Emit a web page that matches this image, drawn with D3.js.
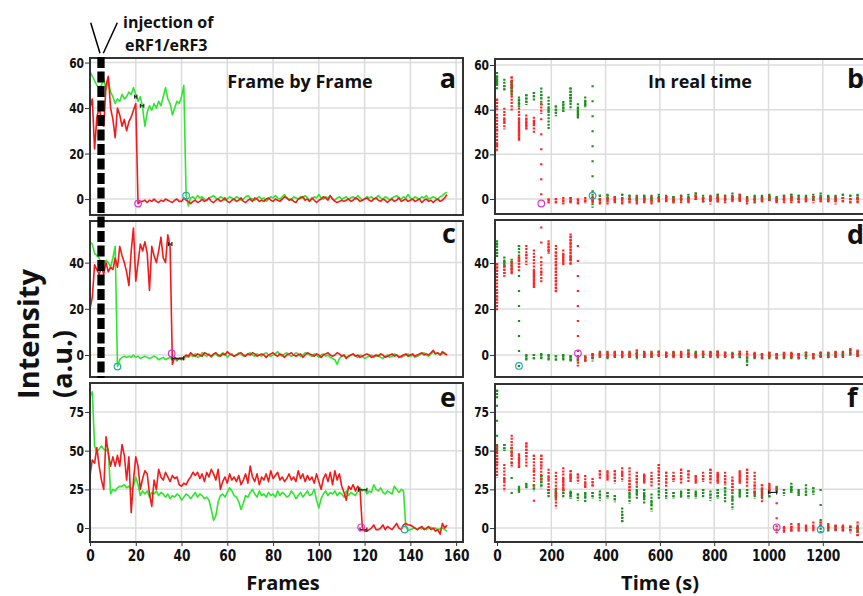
<!doctype html>
<html>
<head>
<style>
  body { margin: 0; background: #fff; }
  text { font-family: "Open Sans", sans-serif; font-weight: bold; fill: #111; }
  .tick text { font-family: "Liberation Sans Narrow", "DejaVu Sans Condensed", "DejaVu Sans", sans-serif; font-stretch: condensed; font-weight: bold; fill: #111; }
  .grid line { stroke: #dcdcdc; stroke-width: 1.5; }
</style>
<script src="https://d3js.org/d3.v7.min.js"></script>
</head>
<body>
<svg width="863" height="596"></svg>
<script>

// ---- data ----
var frameTicks = [0, 20, 40, 60, 80, 100, 120, 140, 160];
var timeTicks = [0, 200, 400, 600, 800, 1000, 1200];
var ticksAB = [0, 20, 40, 60];
var ticksCD = [0, 20, 40];
var ticksEF = [0, 25, 50, 75];

// time (s) of each acquisition burst in the real-time panels
var burstTimes = [0, 27, 54, 81, 108, 136, 163, 190, 217, 244, 271, 298, 325, 352, 379, 407, 434,
  461, 488, 515, 542, 569, 596, 623, 650, 678, 705, 732, 759, 786, 813, 840, 867, 894, 921, 949,
  976, 1003, 1030, 1057, 1084, 1111, 1138, 1165, 1192, 1220, 1247, 1274, 1301, 1328, 1355];
var framesPerBurst = 3.1;

// trace 1 (a/b)
var redA = [40, 44, 22, 36, 40, 35, 32, 50, 54, 40, 35, 27, 40, 37, 32, 35, 30, 34, 36, 39, 42,
  -2,
  -1, -1, -0.5, -1.5, -0.5, -1, 0, -1, -1.5, -0.5,
  -1, 0, -0.5, -1, -1.5, -0.5, 0, -1, -1, 0.5,
  -0.5, -1, -2, -1, -0.5, -1.5, -1, 0, -1, -0.5,
  0.5, -1, -1.5, -0.5, 0, -1, -0.5, 0.5, -1, -1.5,
  -0.5, 0, -1, -0.5, 0.5, -1, -1.5, -0.5, 0, -1,
  0.5, 0, -1, -0.5, -1, 0, 0.5, -0.5, -1, 0,
  -0.5, -1, 0, 1, 0.5, -0.5, 0, -1, -1.5, 0,
  0.5, 1, -0.5, 0, -1, 0.5, -0.5, -1.5, -0.5, 0,
  1, 0.5, -0.5, 1.5, 0, -1, -1.5, -1, -0.5, -1,
  -0.5, 0, -1, -0.5, 0.5, 0, -1, -0.5, 0, 0.5,
  -0.5, -1, 0, 0.5, -0.5, -1, 0, -0.5, -1.5, -0.5,
  0, -1, -0.5, 0.5, -1, -0.5, 0, -1, -0.5, 0,
  -1, -0.5, 0, -1.5, -0.5, 0, -1, -0.5, -1.5, -0.5,
  0, -1, -0.5, 0.5, 2];
var greenA = [56, 54, 52, 50, 49, 50, 53, 48, 52, 47, 45, 42, 44, 43, 46, 44, 45, 47, 46, 49,
  46, 43, 45, 40, 32, 38, 41, 39, 42, 40, 43, 41, 45, 49, 44, 42, 37, 40, 43, 42, 45, 50,
  1.5, -3,
  0.5, 1, 0, 1.5, 0.5, 1, 0, -0.5, 0.5, 1,
  1.5, 0.5, 0, 1, 0.5, -0.5, 0, 1, 0.5, 0,
  1, 0.5, -0.5, 0, 1, 1.5, 0.5, 0, -0.5, 0.5,
  1, 0, 0.5, -1, 0, 1, 0.5, 1.5, 0.5, 0,
  1, 2, 0.5, 0, -0.5, 1, 0.5, 0, 1, 0.5,
  1.5, 0.5, -0.5, 0, 1, 0.5, 2, 0.5, 0, 1,
  0.5, 1.5, 0, -0.5, 0.5, 1, 0, 0.5, 1, 0,
  0.5, 1, 0, 1.5, 0.5, -0.5, 0, 1, 0.5, 1,
  0, 0.5, 1.5, 0.5, 0, 1, 0.5, -0.5, 0.5, 1,
  1.5, 0.5, 0, 1, 0.5, 2, 0.5, 0, 1, 0.5,
  0, 1, 0.5, 1.5, 0, 0.5, 1, 0.5, 0, 1,
  1.5, 2.5, 3];

// trace 2 (c/d)
var redC = [20, 25, 39, 37, 35, 38, 35, 40, 36, 38, 37, 42, 38, 47, 43, 40, 36, 30, 45, 55,
  32, 40, 48, 45, 49, 44, 28, 47, 43, 40, 45, 51, 42, 40, 52, 47, -4,
  -1, -2, -1.5, -2, -1, 0, -0.5, 1, 0, -0.5,
  0.5, 0, -0.5, 1, 0.5, 0, -0.5, 0.5, 1, 0,
  -0.5, 0.5, 0, 1.5, 0.5, 0, -0.5, 0, 0.5, 1,
  0, -0.5, 0.5, 0, 1, 0.5, -0.5, 0, 0.5, 0,
  -1, 0, 0.5, 1, 0, -0.5, 0.5, 0, -1, 0,
  0.5, 1, 0, -0.5, 0, 0.5, -1, 0, 1, 0.5,
  0, -0.5, 0.5, 0, -1, 0, 0.5, 1, 0, -0.5,
  0, 1, 0.5, -0.5, 0, -1.5, -0.5, 0, 0.5, -0.5,
  0, -1, -0.5, 0, 0.5, 0, -1, -0.5, 0, -0.5,
  0.5, 0, -1, -0.5, 0, 0.5, -0.5, 0, -1, -0.5,
  0, 0.5, -0.5, 0, 0.5, -0.5, 0, 0.5, 1, 0,
  0.5, 0, 1, 2, 0.5, 1, 0, 1.5, 0.5, 0];
var greenC = [49, 48, 44, 43, 42, 39, 40, 41, 40, 38, 42, 47,
  -5, -2,
  -1, -0.5, -1, -0.5, -1, 0, -1, -0.5, -1.5, -1,
  -0.5, -1, -1.5, -1, -0.5, -1, -2, -1.5, -1, -2,
  -1.5, -1, -2, -1.5, -2.5, -1.5, -1, -2, -0.5, -1,
  0, -0.5, 0.5, -1, -0.5, 1, 0, -0.5, 0.5, -1,
  0, 0.5, -0.5, 0, 1, 0.5, -1, 0, 0.5, -0.5,
  0, 1, 0.5, -0.5, 0, 0.5, 1, 0, -0.5, 0.5,
  0, -0.5, 0.5, 1, 0, -0.5, 0, 0.5, 1.5, 0,
  -0.5, 0.5, 1, 0, -0.5, 0, 1, 0.5, -0.5, 0,
  1, 0.5, 0, -0.5, 0.5, 0, -1, 0, 0.5, -0.5,
  0, -1, -1.5, -2, -4, -1.5, -0.5, 0, -1, -0.5,
  0, 0.5, -0.5, -1, 0, -0.5, -1.5, -1, -0.5, 0,
  -1, -0.5, 0, -1, -1.5, -0.5, 0, -1, -0.5, 0.5,
  0, -0.5, -1, -0.5, 0, 0.5, -0.5, 0, -1, -0.5,
  0, 0.5, 1, 0, -0.5, 0.5, 1.5, 0.5, 1, 0,
  0.5, 1, 0];

// trace 3 (e/f)
var redE = [34, 44, 42, 52, 40, 31, 25, 59, 48, 40, 46, 40, 47, 40, 54, 47, 31, 46, 10, 31,
  46, 40, 25, 32, 37, 35, 22, 14, 31, 25, 38, 33, 31, 36, 33, 30, 34, 32, 33, 28,
  27, 29, 28, 31, 33, 36, 34, 36, 32, 35, 30, 36, 33, 38, 35, 31, 38, 25, 30, 33,
  29, 35, 31, 33, 30, 34, 28, 31, 35, 29, 40, 33, 30, 35, 28, 33, 31, 35, 30, 37,
  32, 34, 36, 31, 33, 30, 32, 35, 31, 33, 30, 37, 32, 35, 30, 34, 31, 33, 29, 35,
  30, 25, 32, 35, 30, 36, 28, 37, 31, 35, 27, 23, 18, 27, 25, 28, 24, 27, 25, 0.5,
  -2, -2, -1, 0, 2, -1, -1, 0, 2, -1,
  1, 0, -1, 1, 3, 0, -1, 2, 3, 2,
  2, 1, 0, -1, 0, 1, -1, 0, 1, -1,
  0, -2, -1, -4, 3, 0, 2];
var greenE = [85, 88, 53, 49, 51, 53, 51, 50, 51, 22, 25, 24, 26, 27, 27, 28, 26, 27, 25, 27,
  33, 28, 21, 24, 22, 24, 20, 23, 22, 24, 21, 23, 22, 20, 22, 19, 21, 20, 22, 21,
  18, 20, 22, 21, 19, 21, 23, 20, 22, 21, 19, 20, 18, 12, 5, 8, 17, 21, 22, 20,
  23, 26, 24, 21, 20, 17, 12, 16, 21, 20, 23, 25, 22, 20, 24, 21, 22, 20, 23, 21,
  22, 20, 24, 21, 23, 22, 20, 21, 24, 22, 19, 21, 23, 20, 22, 24, 21, 22, 25, 18,
  13, 19, 22, 24, 21, 23, 22, 24, 21, 23, 22, 20, 24, 21, 23, 22, 21, 24, 26, 24,
  25, 22, 24, 23, 28, 25, 24, 26, 23, 22, 24, 23, 22, 27, 25, 23, 25, 24, 1,
  -1.5, -1, -0.5, 0, -1, 0.5, -0.5, 0, -1, 0, 0.5, -0.5, 0, -1, -0.5, 0, -1, -2];

// fitted-step circles: [x, value, kind]  (m = magenta / red trace, c = cyan / green trace)
var circlesA = [[21, -2, "m"], [42, 1.5, "c"]];
var circlesB = [[163, -2, "m"], [352, 1.5, "c"]];
var circlesC = [[12, -5, "c"], [35.7, 0.7, "m"]];
var circlesD = [[81, -4.8, "c"], [298, 0.7, "m"]];
var circlesE = [[118.5, 0.5, "m"], [137.5, -1, "c"]];
var circlesF = [[1030, 0.5, "m"], [1192, -1, "c"]];

// small step marks: [x0, x1, value]
var marksA = [[19.5, 20.5, 45], [22, 23.5, 41]];
var marksC = [[34.3, 35.8, 48], [35.9, 40.9, -1.4]];
var marksE = [[117.4, 121, 24.7], [118, 121, -1]];
var marksF = [[1000, 1030, 23]];

// ---- layout ----
var svg = d3.select("svg");
var xFrame = d3.scaleLinear().domain([0, 163]).range([90, 463]);
var xTime = d3.scaleLinear().domain([-7.4, 1410.6]).range([495, 880]);

var panels = [
  {id: "a", x: xFrame, top: 58, bottom: 215, yDom: [-7, 62], ticks: ticksAB, red: redA, green: greenA, circles: circlesA, marks: marksA, real: false},
  {id: "b", x: xTime, top: 59, bottom: 214, yDom: [-6.7, 62.7], ticks: ticksAB, red: redA, green: greenA, circles: circlesB, marks: [], real: true},
  {id: "c", x: xFrame, top: 221, bottom: 377, yDom: [-9.5, 58], ticks: ticksCD, red: redC, green: greenC, circles: circlesC, marks: marksC, real: false},
  {id: "d", x: xTime, top: 220, bottom: 377, yDom: [-9.6, 58.7], ticks: ticksCD, red: redC, green: greenC, circles: circlesD, marks: [], real: true},
  {id: "e", x: xFrame, top: 383, bottom: 542, yDom: [-9, 93.7], ticks: ticksEF, red: redE, green: greenE, circles: circlesE, marks: marksE, real: false, labels: true},
  {id: "f", x: xTime, top: 384, bottom: 542, yDom: [-9, 93], ticks: ticksEF, red: redE, green: greenE, circles: circlesF, marks: marksF, real: true, labels: true}
];

// consecutive frames that fall in the same burst -> short vertical dotted runs
function burstSteps(values) {
  var steps = [];
  values.forEach(function(v, i) {
    var k = Math.floor(i / framesPerBurst);
    var next = values[i + 1];
    if (next !== undefined && Math.floor((i + 1) / framesPerBurst) === k) {
      steps.push({t: burstTimes[k], a: v, b: next});
    } else if (i === 0 || Math.floor((i - 1) / framesPerBurst) !== k) {
      steps.push({t: burstTimes[k], a: v, b: v});
    }
  });
  return steps;
}

panels.forEach(function(p) {
  var x = p.x;
  var y = d3.scaleLinear().domain(p.yDom).range([p.bottom, p.top]);
  var x0 = x.range()[0], x1 = x.range()[1];
  var g = svg.append("g");

  svg.append("clipPath").attr("id", "clip-" + p.id)
     .append("rect").attr("x", x0).attr("y", p.top).attr("width", x1 - x0).attr("height", p.bottom - p.top);

  // grid
  var xt = p.real ? timeTicks.concat([1400]) : frameTicks;
  g.append("g").attr("class", "grid")
   .selectAll("line").data(xt.filter(function(d) { return d > 0; }))
   .enter().append("line")
   .attr("x1", function(d) { return x(d); }).attr("x2", function(d) { return x(d); })
   .attr("y1", p.top).attr("y2", p.bottom);
  g.append("g").attr("class", "grid")
   .selectAll("line").data(p.ticks)
   .enter().append("line")
   .attr("x1", x0).attr("x2", x1)
   .attr("y1", function(d) { return y(d); }).attr("y2", function(d) { return y(d); });

  var plot = g.append("g").attr("clip-path", "url(#clip-" + p.id + ")");

  if (!p.real) {
    var line = d3.line().x(function(d, i) { return x(i); }).y(function(d) { return y(d); });
    plot.append("path").datum(p.green).attr("d", line)
        .attr("fill", "none").attr("stroke", "#2fe62f").attr("stroke-width", 1.6).attr("stroke-linejoin", "round");
    plot.append("path").datum(p.red).attr("d", line)
        .attr("fill", "none").attr("stroke", "#f51a1a").attr("stroke-width", 1.6).attr("stroke-linejoin", "round");
  } else {
    [[p.green, "#1e8f1e"], [p.red, "#ff2424"]].forEach(function(s) {
      plot.selectAll(null).data(burstSteps(s[0])).enter().append("line")
          .attr("x1", function(d) { return x(d.t); }).attr("x2", function(d) { return x(d.t); })
          .attr("y1", function(d) { return y(Math.max(d.a, d.b)) - 2; })
          .attr("y2", function(d) { return y(Math.min(d.a, d.b)) + 2; })
          .attr("stroke", s[1]).attr("stroke-width", 2.3)
          .attr("stroke-dasharray", function(d) { return Math.abs(d.a - d.b) > 20 ? "2,13" : "2,1.2"; });
    });
  }

  // step marks
  p.marks.forEach(function(m) {
    var mg = plot.append("g").attr("stroke", "#222").attr("stroke-width", 1.2);
    mg.append("line").attr("x1", x(m[0])).attr("x2", x(m[1])).attr("y1", y(m[2])).attr("y2", y(m[2]));
    mg.append("line").attr("x1", x(m[0])).attr("x2", x(m[0])).attr("y1", y(m[2]) - 2).attr("y2", y(m[2]) + 2);
    mg.append("line").attr("x1", x(m[1])).attr("x2", x(m[1])).attr("y1", y(m[2]) - 2).attr("y2", y(m[2]) + 2);
  });

  plot.selectAll("circle").data(p.circles).enter().append("circle")
      .attr("cx", function(d) { return x(d[0]); }).attr("cy", function(d) { return y(d[1]); })
      .attr("r", 3.3).attr("fill", "none").attr("stroke-width", 1.2)
      .attr("stroke", function(d) { return d[2] === "m" ? "#d638d6" : "#2aa8b0"; });

  // axes
  var yAxis = g.append("g").attr("transform", "translate(" + x0 + ",0)")
               .call(d3.axisLeft(y).tickValues(p.ticks).tickSize(5).tickPadding(2));
  yAxis.select(".domain").remove();
  yAxis.selectAll(".tick line").attr("stroke", "#333");
  yAxis.selectAll(".tick text").attr("font-size", 14).attr("transform", "scale(0.85,1)");

  if (p.labels) {
    var xAxis = g.append("g").attr("transform", "translate(0," + p.bottom + ")")
                 .call(d3.axisBottom(x).tickValues(p.real ? timeTicks : frameTicks)
                         .tickFormat(d3.format("d")).tickSize(4).tickPadding(4));
    xAxis.select(".domain").remove();
    xAxis.selectAll(".tick line").attr("stroke", "#333");
    xAxis.selectAll(".tick text").attr("font-size", 16).attr("transform", "scale(0.85,1)");
  }

  g.append("rect").attr("x", x0).attr("y", p.top).attr("width", x1 - x0).attr("height", p.bottom - p.top)
   .attr("fill", "none").attr("stroke", "#333").attr("stroke-width", 2);

  // panel letter
  var letterX = p.real ? 847 : 456;
  var letterY = {a: 88, b: 88, c: 243, d: 244, e: 407, f: 407}[p.id];
  g.append("text").attr("x", letterX).attr("y", letterY)
   .attr("text-anchor", p.real ? "start" : "end").attr("font-size", 27).text(p.id);
});

// panel headings
svg.append("text").attr("x", 300).attr("y", 88).attr("text-anchor", "middle").attr("font-size", 18).text("Frame by Frame");
svg.append("text").attr("x", 700).attr("y", 88).attr("text-anchor", "middle").attr("font-size", 18).text("In real time");

// axis titles
svg.append("text").attr("x", 283).attr("y", 590).attr("text-anchor", "middle").attr("font-size", 20).text("Frames");
svg.append("text").attr("x", 660).attr("y", 590).attr("text-anchor", "middle").attr("font-size", 20).text("Time (s)");
svg.append("text").attr("transform", "translate(39,334) rotate(-90)").attr("text-anchor", "middle")
   .attr("font-size", 29).text("Intensity");
svg.append("text").attr("transform", "translate(72,364) rotate(-90)").attr("text-anchor", "middle")
   .attr("font-size", 27).text("(a.u.)");

// injection marker
svg.append("line").attr("x1", xFrame(4.8)).attr("x2", xFrame(4.8)).attr("y1", 57).attr("y2", 378)
   .attr("stroke", "#000").attr("stroke-width", 7.3).attr("stroke-dasharray", "11,3.5");
svg.append("line").attr("x1", 90.7).attr("y1", 22.7).attr("x2", 100).attr("y2", 53.3).attr("stroke", "#000").attr("stroke-width", 1.5);
svg.append("line").attr("x1", 117.3).attr("y1", 22.7).attr("x2", 103.3).attr("y2", 53.3).attr("stroke", "#000").attr("stroke-width", 1.5);
svg.append("text").attr("x", 123).attr("y", 28).attr("font-size", 16).text("injection of");
svg.append("text").attr("x", 125).attr("y", 51).attr("font-size", 16).text("eRF1/eRF3");

</script>
</body>
</html>
